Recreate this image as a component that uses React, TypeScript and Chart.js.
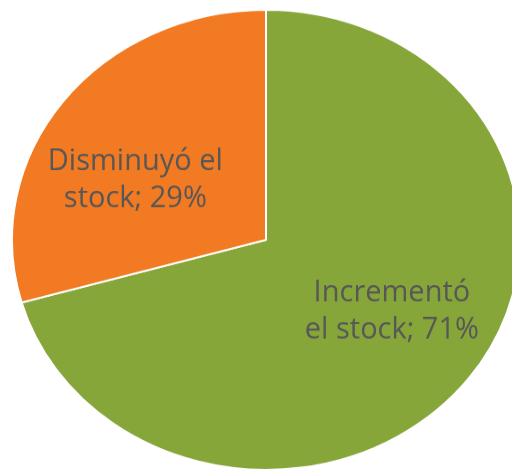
import React, { useEffect, useRef } from "react";
import { Chart, registerables } from "chart.js";

Chart.register(...registerables);

const categories = ["Incrementó el stock", "Disminuyó el stock"];
const values = [70.6, 29.4];
const colors = ["#87A63A", "#F27A22"];
const labelLines = [
  ["Incrementó", "el stock; 71%"],
  ["Disminuyó el", "stock; 29%"],
];

const SCALE_Y = 230 / 254;

const labelPlugin = {
  id: "sliceLabels",
  afterDatasetsDraw(chart: any) {
    const ctx = chart.ctx;
    const meta = chart.getDatasetMeta(0);
    const tweaks = [
      { dAngle: -2.1, frac: 0.605 },
      { dAngle: -13.8, frac: 0.56 },
    ];
    meta.data.forEach((arc: any, i: number) => {
      const { x, y, startAngle, endAngle, outerRadius } = arc.getProps(
        ["x", "y", "startAngle", "endAngle", "outerRadius"],
        true
      );
      const mid = (startAngle + endAngle) / 2 + (tweaks[i].dAngle * Math.PI) / 180;
      const r = outerRadius * tweaks[i].frac;
      const px = x + Math.cos(mid) * r;
      const py = y + Math.sin(mid) * r;
      ctx.save();
      ctx.translate(px, py);
      ctx.scale(1, 1 / SCALE_Y);
      ctx.fillStyle = "#575757";
      ctx.font = '29px "Open Sans", sans-serif';
      ctx.textAlign = "center";
      ctx.textBaseline = "alphabetic";
      const lines = labelLines[i];
      const lh = 37;
      lines.forEach((ln, k) => {
        ctx.fillText(ln, 0, (k - (lines.length - 1) / 2) * lh);
      });
      ctx.restore();
    });
  },
};

export default function App() {
  const ref = useRef<HTMLCanvasElement | null>(null);
  useEffect(() => {
    if (!ref.current) return;
    const chart = new Chart(ref.current, {
      type: "pie",
      data: {
        labels: categories,
        datasets: [
          {
            data: values,
            backgroundColor: colors,
            borderColor: "#ffffff",
            borderWidth: 2,
          },
        ],
      },
      options: {
        responsive: false,
        animation: false,
        devicePixelRatio: 1,
        rotation: 0,
        layout: { padding: 1 },
        plugins: {
          legend: { display: false },
          tooltip: { enabled: false },
        },
      },
      plugins: [labelPlugin],
    });
    return () => chart.destroy();
  }, []);
  return (
    <div
      style={{
        position: "absolute",
        left: 0,
        top: 0,
        width: 512,
        height: 470,
        overflow: "hidden",
        background: "#ffffff",
      }}
    >
      <canvas
        ref={ref}
        width={512}
        height={512}
        style={{
          position: "absolute",
          left: 10,
          top: 8.2,
          width: 512,
          height: 512,
          transformOrigin: "0 0",
          transform: `scaleY(${SCALE_Y})`,
        }}
      />
    </div>
  );
}
